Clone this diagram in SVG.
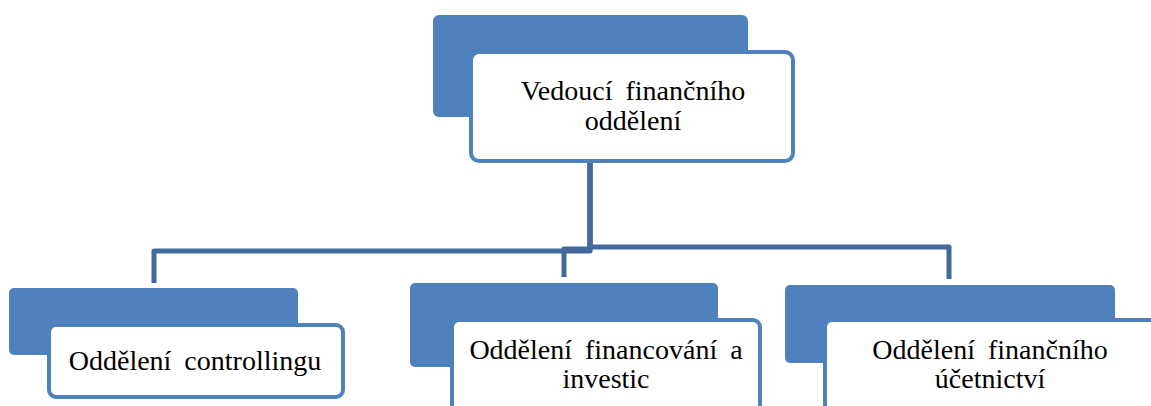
<svg xmlns="http://www.w3.org/2000/svg" width="1151" height="406" viewBox="0 0 1151 406">
  <style>
    .back { fill: #4f81bd; }
    .front { fill: #ffffff; stroke: #4f81bd; stroke-width: 4; }
    .link { fill: none; stroke: #41699b; stroke-width: 5; stroke-linejoin: round; }
    .label { font-family: 'Liberation Serif', 'Times New Roman', Tinos, 'DejaVu Serif', serif; font-size: 28px; fill: #000000; text-anchor: middle; word-spacing: 6px; }
  </style>
  <rect width="1151" height="406" fill="#ffffff"/>

  <g id="connectors">
    <path class="link" d="M590 161 V251 H154 V283"/>
    <path class="link" d="M590 161 V249 H564 V277"/>
    <path class="link" d="M590 161 V247 H949 V279"/>
  </g>

  <g id="node-head">
    <rect class="back" x="433" y="15" width="315" height="102" rx="6"/>
    <rect class="front" x="471" y="52" width="322" height="109" rx="8"/>
    <text class="label" x="633" y="100">Vedoucí finančního</text>
    <text class="label" x="633" y="130">oddělení</text>
  </g>

  <g id="node-controlling">
    <rect class="back" x="9" y="288" width="289" height="67" rx="5"/>
    <rect class="front" x="49" y="325" width="294" height="72" rx="7"/>
    <text class="label" x="195" y="370">Oddělení controllingu</text>
  </g>

  <g id="node-financing">
    <rect class="back" x="410" y="283" width="308" height="84" rx="5"/>
    <rect class="front" x="452" y="320" width="308" height="100" rx="7"/>
    <text class="label" x="606" y="359">Oddělení financování a</text>
    <text class="label" x="606" y="388">investic</text>
  </g>

  <g id="node-accounting">
    <rect class="back" x="785" y="285" width="330" height="78" rx="5"/>
    <rect class="front" x="825" y="320" width="332" height="100" rx="7"/>
    <text class="label" x="990" y="359">Oddělení finančního</text>
    <text class="label" x="990" y="388">účetnictví</text>
  </g>
</svg>
